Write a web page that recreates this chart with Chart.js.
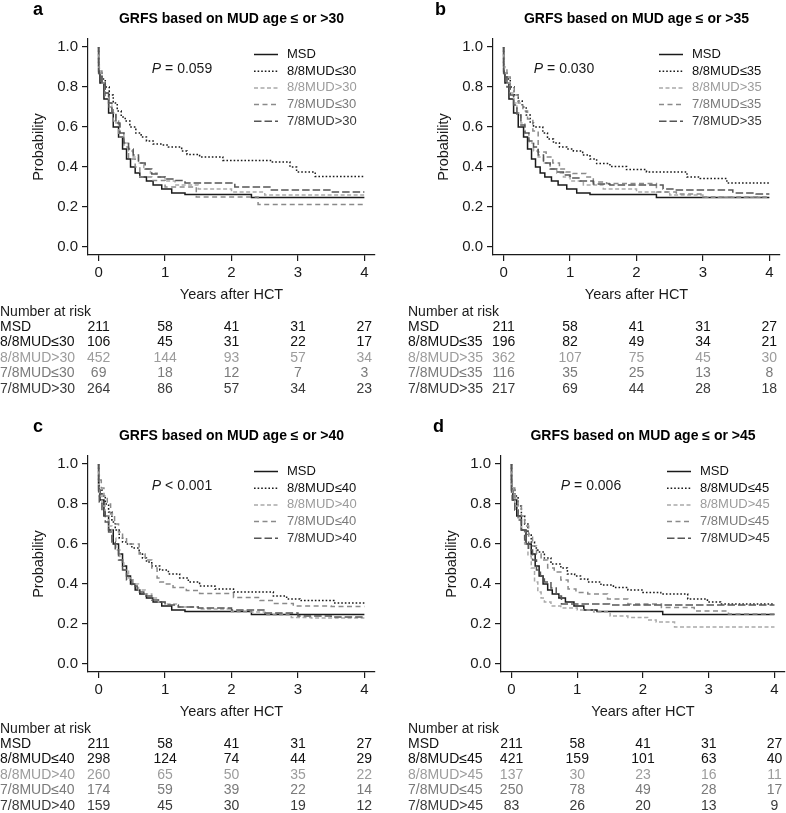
<!DOCTYPE html>
<html>
<head>
<meta charset="utf-8">
<script src="https://cdn.jsdelivr.net/npm/chart.js@4.4.1/dist/chart.umd.min.js"></script>
<style>
  body { margin: 0; background: #fff; }
  #wrap { position: relative; width: 786px; height: 813px; }
  #wrap canvas { position: absolute; }
</style>
</head>
<body>
<div id="wrap">
  <canvas id="chartA"></canvas>
  <canvas id="chartB"></canvas>
  <canvas id="chartC"></canvas>
  <canvas id="chartD"></canvas>
</div>
<script>
// ---- data ----
const cutoffs = [30, 35, 40, 45];
const pTexts = ['= 0.059', '= 0.030', '< 0.001', '= 0.006'];
const xTicks = [0, 1, 2, 3, 4];
const yTicks = [0, 0.2, 0.4, 0.6, 0.8, 1.0];

// MSD curve is the same in every panel
const msdT = [0, 0.02, 0.08, 0.15, 0.22, 0.3, 0.36, 0.42, 0.48, 0.55, 0.62, 0.72, 0.82, 0.95, 1.1, 1.3, 2.3, 3.26, 4.0];
const msdS = [1.0, 0.87, 0.82, 0.74, 0.67, 0.6, 0.55, 0.49, 0.44, 0.4, 0.37, 0.35, 0.33, 0.31, 0.29, 0.27, 0.262, 0.248, 0.248];

// panel a (30)
const aLe8T = [0, 0.01, 0.05, 0.1, 0.16, 0.22, 0.28, 0.34, 0.4, 0.47, 0.56, 0.64, 0.72, 0.82, 0.95, 1.05, 1.25, 1.33, 1.52, 1.87, 2.6, 2.88, 2.98, 3.26, 3.78, 4.0];
const aLe8S = [1.0, 0.9, 0.87, 0.84, 0.8, 0.76, 0.72, 0.68, 0.65, 0.63, 0.6, 0.57, 0.55, 0.53, 0.515, 0.51, 0.5, 0.48, 0.463, 0.45, 0.433, 0.425, 0.4, 0.375, 0.353, 0.353];
const aGt8T = [0, 0.01, 0.05, 0.1, 0.15, 0.2, 0.26, 0.32, 0.38, 0.45, 0.52, 0.6, 0.68, 0.78, 0.88, 1.0, 1.15, 1.5, 2.0, 2.5, 3.0, 4.0];
const aGt8S = [1.0, 0.9, 0.87, 0.82, 0.77, 0.72, 0.67, 0.62, 0.57, 0.52, 0.48, 0.45, 0.42, 0.39, 0.37, 0.35, 0.33, 0.31, 0.29, 0.275, 0.26, 0.26];
const aLe7T = [0, 0.01, 0.05, 0.1, 0.16, 0.22, 0.3, 0.38, 0.45, 0.55, 0.62, 0.8, 1.0, 1.47, 2.4, 2.75, 4.0];
const aLe7S = [1.0, 0.92, 0.88, 0.82, 0.75, 0.7, 0.63, 0.55, 0.5, 0.44, 0.4, 0.35, 0.333, 0.3, 0.25, 0.213, 0.213];
const aGt7T = [0, 0.01, 0.05, 0.1, 0.15, 0.2, 0.26, 0.32, 0.38, 0.45, 0.52, 0.6, 0.7, 0.8, 0.9, 1.0, 1.15, 1.3, 2.05, 2.6, 3.5, 3.85, 4.0];
const aGt7S = [1.0, 0.88, 0.86, 0.82, 0.77, 0.72, 0.67, 0.62, 0.57, 0.52, 0.49, 0.46, 0.42, 0.39, 0.365, 0.35, 0.34, 0.333, 0.32, 0.3, 0.285, 0.275, 0.275];

// panel b (35)
const bLe8T = [0, 0.01, 0.05, 0.1, 0.16, 0.22, 0.28, 0.34, 0.4, 0.45, 0.59, 0.66, 0.75, 0.84, 0.95, 1.05, 1.19, 1.3, 1.4, 1.6, 1.85, 2.15, 2.76, 2.96, 3.36, 3.81, 4.0];
const bLe8S = [1.0, 0.9, 0.87, 0.84, 0.8, 0.76, 0.73, 0.7, 0.66, 0.62, 0.6, 0.57, 0.54, 0.52, 0.5, 0.49, 0.48, 0.46, 0.44, 0.417, 0.403, 0.387, 0.375, 0.35, 0.342, 0.32, 0.32];
const bGt8T = [0, 0.01, 0.05, 0.1, 0.15, 0.2, 0.26, 0.32, 0.38, 0.45, 0.52, 0.6, 0.7, 0.8, 0.9, 1.0, 1.2, 1.5, 2.0, 2.5, 3.0, 3.5, 4.0];
const bGt8S = [1.0, 0.92, 0.87, 0.82, 0.77, 0.72, 0.67, 0.62, 0.57, 0.52, 0.48, 0.45, 0.42, 0.39, 0.37, 0.35, 0.33, 0.31, 0.29, 0.275, 0.26, 0.25, 0.25];
const bLe7T = [0, 0.01, 0.05, 0.1, 0.16, 0.22, 0.29, 0.36, 0.44, 0.52, 0.64, 0.74, 0.84, 0.94, 1.04, 1.24, 1.35, 1.55, 2.3, 2.6, 3.0, 3.6, 4.0];
const bLe7S = [1.0, 0.95, 0.9, 0.85, 0.8, 0.76, 0.72, 0.68, 0.64, 0.58, 0.475, 0.45, 0.42, 0.39, 0.375, 0.367, 0.35, 0.325, 0.317, 0.275, 0.265, 0.25, 0.25];
const bGt7T = [0, 0.01, 0.05, 0.1, 0.15, 0.2, 0.26, 0.32, 0.38, 0.45, 0.52, 0.6, 0.7, 0.8, 0.9, 1.0, 1.15, 1.35, 1.6, 2.4, 2.6, 3.45, 3.8, 4.0];
const bGt7S = [1.0, 0.88, 0.85, 0.8, 0.76, 0.71, 0.66, 0.61, 0.57, 0.53, 0.5, 0.46, 0.42, 0.39, 0.375, 0.36, 0.345, 0.33, 0.315, 0.31, 0.29, 0.285, 0.27, 0.265];

// panel c (40)
const cLe8T = [0, 0.01, 0.05, 0.1, 0.15, 0.2, 0.25, 0.31, 0.36, 0.41, 0.5, 0.61, 0.66, 0.72, 0.8, 0.92, 1.05, 1.22, 1.35, 1.52, 1.75, 2.03, 2.63, 2.83, 3.03, 3.54, 3.84, 4.0];
const cLe8S = [1.0, 0.9, 0.87, 0.84, 0.8, 0.76, 0.71, 0.67, 0.63, 0.61, 0.6, 0.58, 0.555, 0.53, 0.51, 0.49, 0.47, 0.45, 0.43, 0.41, 0.39, 0.375, 0.36, 0.34, 0.325, 0.317, 0.305, 0.305];
const cGt8T = [0, 0.01, 0.05, 0.1, 0.15, 0.2, 0.26, 0.32, 0.38, 0.45, 0.52, 0.6, 0.7, 0.8, 0.9, 1.0, 1.2, 1.5, 2.0, 2.5, 2.9, 3.2, 4.0];
const cGt8S = [1.0, 0.88, 0.84, 0.79, 0.74, 0.69, 0.63, 0.57, 0.52, 0.47, 0.43, 0.4, 0.37, 0.35, 0.33, 0.31, 0.3, 0.285, 0.275, 0.26, 0.245, 0.232, 0.23];
const cLe7T = [0, 0.01, 0.04, 0.08, 0.13, 0.18, 0.24, 0.3, 0.36, 0.42, 0.61, 0.7, 0.8, 0.88, 0.92, 1.0, 1.12, 1.32, 1.52, 2.03, 2.43, 2.63, 2.93, 3.5, 4.0];
const cLe7S = [1.0, 0.95, 0.92, 0.88, 0.84, 0.8, 0.75, 0.7, 0.66, 0.63, 0.6, 0.55, 0.52, 0.48, 0.43, 0.41, 0.4, 0.383, 0.367, 0.353, 0.333, 0.317, 0.303, 0.29, 0.287];
const cGt7T = [0, 0.01, 0.05, 0.1, 0.15, 0.2, 0.25, 0.3, 0.36, 0.42, 0.5, 0.58, 0.68, 0.8, 0.9, 1.0, 1.2, 1.5, 2.0, 2.5, 3.0, 3.5, 4.0];
const cGt7S = [1.0, 0.85, 0.81, 0.76, 0.71, 0.66, 0.61, 0.57, 0.52, 0.47, 0.42, 0.39, 0.36, 0.34, 0.32, 0.31, 0.295, 0.285, 0.28, 0.27, 0.255, 0.24, 0.235];

// panel d (45)
const dLe8T = [0, 0.01, 0.05, 0.1, 0.15, 0.2, 0.25, 0.3, 0.35, 0.4, 0.5, 0.6, 0.75, 0.85, 0.96, 1.05, 1.16, 1.36, 1.55, 1.77, 2.0, 2.27, 2.68, 2.98, 3.18, 4.0];
const dLe8S = [1.0, 0.9, 0.87, 0.84, 0.79, 0.74, 0.7, 0.65, 0.61, 0.58, 0.56, 0.53, 0.5, 0.48, 0.45, 0.44, 0.425, 0.41, 0.395, 0.383, 0.37, 0.358, 0.35, 0.325, 0.31, 0.3];
const dGt8T = [0, 0.01, 0.05, 0.1, 0.15, 0.2, 0.25, 0.3, 0.35, 0.4, 0.45, 0.5, 0.6, 0.75, 1.0, 1.25, 1.5, 1.77, 2.07, 2.2, 2.48, 2.63, 4.0];
const dGt8S = [1.0, 0.9, 0.85, 0.79, 0.73, 0.67, 0.6, 0.54, 0.48, 0.41, 0.36, 0.33, 0.31, 0.29, 0.28, 0.27, 0.26, 0.24, 0.233, 0.22, 0.21, 0.185, 0.185];
const dLe7T = [0, 0.01, 0.05, 0.1, 0.15, 0.2, 0.26, 0.32, 0.38, 0.45, 0.55, 0.65, 0.75, 0.86, 0.98, 1.16, 1.46, 1.77, 2.28, 2.78, 3.3, 3.8, 4.0];
const dLe7S = [1.0, 0.92, 0.88, 0.83, 0.79, 0.74, 0.69, 0.64, 0.59, 0.55, 0.52, 0.48, 0.46, 0.42, 0.375, 0.358, 0.35, 0.325, 0.3, 0.283, 0.265, 0.25, 0.25];
const dGt7T = [0, 0.01, 0.05, 0.1, 0.15, 0.2, 0.26, 0.32, 0.38, 0.44, 0.5, 0.6, 0.68, 0.76, 1.49, 4.0];
const dGt7S = [1.0, 0.86, 0.82, 0.77, 0.72, 0.67, 0.62, 0.57, 0.52, 0.47, 0.44, 0.41, 0.38, 0.34, 0.3, 0.295];

// number at risk (rows: MSD, 8/8<=, 8/8>, 7/8<=, 7/8>)
const riskA = [[211, 58, 41, 31, 27], [106, 45, 31, 22, 17], [452, 144, 93, 57, 34], [69, 18, 12, 7, 3], [264, 86, 57, 34, 23]];
const riskB = [[211, 58, 41, 31, 27], [196, 82, 49, 34, 21], [362, 107, 75, 45, 30], [116, 35, 25, 13, 8], [217, 69, 44, 28, 18]];
const riskC = [[211, 58, 41, 31, 27], [298, 124, 74, 44, 29], [260, 65, 50, 35, 22], [174, 59, 39, 22, 14], [159, 45, 30, 19, 12]];
const riskD = [[211, 58, 41, 31, 27], [421, 159, 101, 63, 40], [137, 30, 23, 16, 11], [250, 78, 49, 28, 17], [83, 26, 20, 13, 9]];

// ---- styles ----
const FONT = "'Liberation Sans', Arial, Helvetica, sans-serif";
const lineColors = ['#1a1a1a', '#1a1a1a', '#a9a9a9', '#8a8a8a', '#555555'];
const lineDash = [[], [1.6, 2], [4, 2.5], [5, 3.5], [7.5, 3]];
const textColors = ['#111111', '#111111', '#9c9c9c', '#7a7a7a', '#3a3a3a'];

const panels = [
    { id: 'chartA', letter: 'a', left: 0, top: 0, w: 393, h: 410, area: [88, 375, 39, 255], letterX: 33, pX: 94, tableLeft: 0,
      curves: [[msdT, msdS], [aLe8T, aLe8S], [aGt8T, aGt8S], [aLe7T, aLe7S], [aGt7T, aGt7S]], risk: riskA },
    { id: 'chartB', letter: 'b', left: 393, top: 0, w: 393, h: 410, area: [100, 387, 39, 255], letterX: 42, pX: 71, tableLeft: 15,
      curves: [[msdT, msdS], [bLe8T, bLe8S], [bGt8T, bGt8S], [bLe7T, bLe7S], [bGt7T, bGt7S]], risk: riskB },
    { id: 'chartC', letter: 'c', left: 0, top: 410, w: 393, h: 403, area: [88, 375, 46, 262], letterX: 33, pX: 94, tableLeft: 0,
      curves: [[msdT, msdS], [cLe8T, cLe8S], [cGt8T, cGt8S], [cLe7T, cLe7S], [cGt7T, cGt7S]], risk: riskC },
    { id: 'chartD', letter: 'd', left: 393, top: 410, w: 393, h: 403, area: [108, 392, 46, 262], letterX: 40, pX: 90, tableLeft: 15,
      curves: [[msdT, msdS], [dLe8T, dLe8S], [dGt8T, dGt8S], [dLe7T, dLe7S], [dGt7T, dGt7S]], risk: riskD }
];

function groupNames(cut) {
    return ['MSD', '8/8MUD\u2264' + cut, '8/8MUD>' + cut, '7/8MUD\u2264' + cut, '7/8MUD>' + cut];
}

// draws title, letter, P value, legend, axis titles and the risk table
const decorPlugin = {
    id: 'decor',
    afterDraw(chart, args, opts) {
        const ctx = chart.ctx;
        const ca = chart.chartArea;
        const xs = chart.scales.x;
        const names = groupNames(opts.cut);
        ctx.save();
        ctx.textBaseline = 'middle';

        // panel letter
        ctx.fillStyle = '#000';
        ctx.font = 'bold 18px ' + FONT;
        ctx.textAlign = 'left';
        ctx.fillText(opts.letter, opts.letterX, ca.top - 29);

        // title
        ctx.font = 'bold 14px ' + FONT;
        ctx.textAlign = 'center';
        ctx.fillText('GRFS based on MUD age \u2264 or >' + opts.cut, (ca.left + ca.right) / 2, ca.top - 20);

        // P value
        ctx.font = 'italic 14px ' + FONT;
        const wP = ctx.measureText('P').width;
        ctx.font = '14px ' + FONT;
        const rest = ' ' + opts.pText;
        const wR = ctx.measureText(rest).width;
        let px = ca.left + opts.pX - (wP + wR) / 2;
        ctx.textAlign = 'left';
        ctx.fillStyle = '#1a1a1a';
        ctx.font = 'italic 14px ' + FONT;
        ctx.fillText('P', px, ca.top + 30);
        ctx.font = '14px ' + FONT;
        ctx.fillText(rest, px + wP, ca.top + 30);

        // legend
        ctx.font = '13px ' + FONT;
        for (let i = 0; i < 5; i++) {
            const y = ca.top + 15.5 + 16.7 * i;
            ctx.strokeStyle = lineColors[i];
            ctx.lineWidth = 1.5;
            ctx.setLineDash(lineDash[i]);
            ctx.beginPath();
            ctx.moveTo(ca.left + 166, y);
            ctx.lineTo(ca.left + 190, y);
            ctx.stroke();
            ctx.setLineDash([]);
            ctx.fillStyle = textColors[i];
            ctx.fillText(names[i], ca.left + 199, y);
        }

        // axis titles
        ctx.fillStyle = '#1a1a1a';
        ctx.font = '14.5px ' + FONT;
        ctx.textAlign = 'center';
        ctx.fillText('Years after HCT', (ca.left + ca.right) / 2, ca.bottom + 40);
        ctx.save();
        ctx.translate(ca.left - 49, (ca.top + ca.bottom) / 2);
        ctx.rotate(-Math.PI / 2);
        ctx.fillText('Probability', 0, 0);
        ctx.restore();

        // number at risk
        ctx.font = '14px ' + FONT;
        ctx.textAlign = 'left';
        ctx.fillStyle = '#1a1a1a';
        ctx.fillText('Number at risk', opts.tableLeft, ca.bottom + 57);
        opts.risk.forEach((row, i) => {
            const y = ca.bottom + 72 + 15.5 * i;
            ctx.fillStyle = textColors[i];
            ctx.textAlign = 'left';
            ctx.fillText(names[i], opts.tableLeft, y);
            ctx.textAlign = 'center';
            row.forEach((n, j) => {
                ctx.fillText(String(n), xs.getPixelForValue(xTicks[j]), y);
            });
        });
        ctx.restore();
    }
};

panels.forEach((p, k) => {
    const canvas = document.getElementById(p.id);
    canvas.width = p.w;
    canvas.height = p.h;
    canvas.style.left = p.left + 'px';
    canvas.style.top = p.top + 'px';
    const [cl, cr, ct, cb] = p.area;
    const xH = 40;
    const names = groupNames(cutoffs[k]);

    const datasets = p.curves.map((c, i) => ({
        label: names[i],
        data: c[0].map((t, j) => ({ x: t, y: c[1][j] })),
        borderColor: lineColors[i],
        borderDash: lineDash[i],
        borderWidth: 1.5,
        pointRadius: 0,
        stepped: 'after',
        fill: false,
        order: 5 - i
    }));

    new Chart(canvas.getContext('2d'), {
        type: 'line',
        data: { datasets },
        options: {
            responsive: false,
            animation: false,
            devicePixelRatio: 1,
            layout: { padding: { left: 0, right: p.w - cr, top: ct, bottom: p.h - cb - xH } },
            plugins: {
                legend: { display: false },
                tooltip: { enabled: false },
                decor: { letter: p.letter, cut: cutoffs[k], pText: pTexts[k], letterX: p.letterX, pX: p.pX, tableLeft: p.tableLeft, risk: p.risk }
            },
            scales: {
                x: {
                    type: 'linear',
                    min: -0.16,
                    max: 4.16,
                    afterBuildTicks: s => { s.ticks = xTicks.map(v => ({ value: v })); },
                    afterFit: s => { s.height = xH; },
                    grid: { display: true, drawOnChartArea: false, drawTicks: true, tickLength: 6, color: '#1a1a1a', lineWidth: 1.2 },
                    border: { display: true, color: '#1a1a1a', width: 1.2 },
                    ticks: { color: '#1a1a1a', font: { family: FONT, size: 15 }, padding: 3, maxRotation: 0, autoSkip: false }
                },
                y: {
                    type: 'linear',
                    min: -0.04,
                    max: 1.04,
                    afterBuildTicks: s => { s.ticks = yTicks.map(v => ({ value: v })); },
                    afterFit: s => { s.width = cl; },
                    grid: { display: true, drawOnChartArea: false, drawTicks: true, tickLength: 6, color: '#1a1a1a', lineWidth: 1.2 },
                    border: { display: true, color: '#1a1a1a', width: 1.2 },
                    ticks: { color: '#1a1a1a', font: { family: FONT, size: 15 }, padding: 4, autoSkip: false, callback: v => v.toFixed(1) }
                }
            }
        },
        plugins: [decorPlugin]
    });
});
</script>
</body>
</html>
